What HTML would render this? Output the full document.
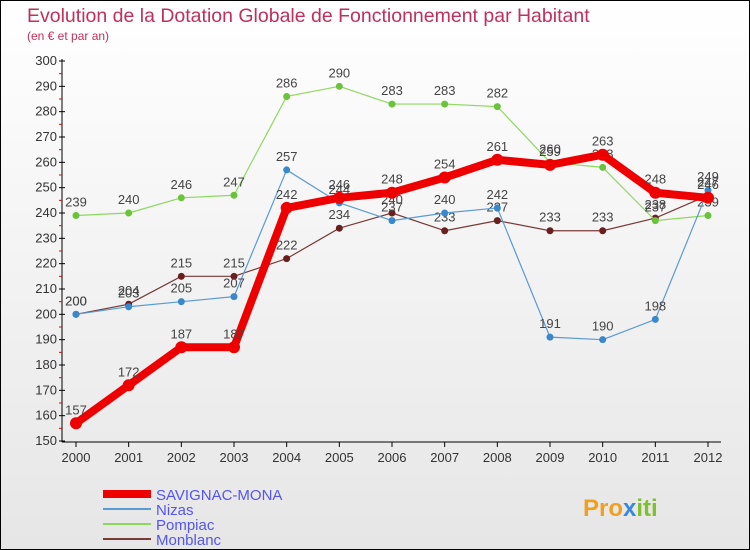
<!DOCTYPE html>
<html><head><meta charset="utf-8"><style>
body{margin:0;}
#wrap{width:748px;height:548px;border:1px solid #000;background:linear-gradient(#fff,#e6e6e6);position:relative;font-family:"Liberation Sans",sans-serif;overflow:hidden}
</style></head><body>
<div id="wrap">
<svg id="chart" width="748" height="548"></svg>
</div>
<script>
const years=[2000,2001,2002,2003,2004,2005,2006,2007,2008,2009,2010,2011,2012];
const savignac=[157,172,187,187,242,246,248,254,261,259,263,248,246];
const nizas=[200,203,205,207,257,244,237,240,242,191,190,198,249];
const pompiac=[239,240,246,247,286,290,283,283,282,260,258,237,239];
const monblanc=[200,204,215,215,222,234,240,233,237,233,233,238,247];
const yTicks=[150,160,170,180,190,200,210,220,230,240,250,260,270,280,290,300];
const seriesNames=["SAVIGNAC-MONA","Nizas","Pompiac","Monblanc"];
const NS="http://www.w3.org/2000/svg";
const svg=document.getElementById('chart');
function X(i){return 75+i*(632/12);}
function Y(v){return 440-(v-150)*(380/150);}
function el(t,a,p){const e=document.createElementNS(NS,t);for(const k in a)e.setAttribute(k,a[k]);(p||svg).appendChild(e);return e;}
function txt(x,y,s,a){const e=el('text',Object.assign({x:x,y:y},a));e.textContent=s;return e;}
let t=txt(26,21,"Evolution de la Dotation Globale de Fonctionnement par Habitant",{fill:"#c0305a","font-size":"19.5","font-weight":"300"});

t=txt(26,39,"(en € et par an)",{fill:"#c0305a","font-size":"12"});

let a=el('line',{x1:61,y1:58,x2:61,y2:441,stroke:"#000"});

a=el('line',{x1:61,y1:441,x2:720,y2:441,stroke:"#000"});

yTicks.forEach(v=>{
 el('line',{x1:58,y1:Y(v),x2:64,y2:Y(v),stroke:"#000"});
 if(v<300) el('line',{x1:58,y1:Y(v+5),x2:61,y2:Y(v+5),stroke:"#e00"});
 const l=txt(56,Y(v)+4,v,{"text-anchor":"end","font-size":"13",fill:"#333"});
 
});
years.forEach((y,i)=>{
 el('line',{x1:X(i),y1:441,x2:X(i),y2:446,stroke:"#000"});
 const l=txt(X(i),461,y,{"text-anchor":"middle","font-size":"13",fill:"#333"});
 
});
function draw(data,color,dot,w,r,name){
 const g=el('g',{});
 
 el('polyline',{points:data.map((v,i)=>X(i)+","+Y(v)).join(" "),fill:"none",stroke:color,"stroke-width":w,"stroke-linejoin":"round"},g);
 data.forEach((v,i)=>{
  const c=el('circle',{cx:X(i),cy:Y(v),r:r,fill:dot},g);
  
  const l=txt(X(i),Y(v)-9,v,{"text-anchor":"middle","font-size":"13",fill:"#444"},g);
  
 });
}
draw(monblanc,"#7a3a3a","#6a1f1f",1.2,3.5,"monblanc-series");
draw(pompiac,"#8ed860","#6ac43a",1.2,3.5,"pompiac-series");
draw(nizas,"#5a9ad6","#3a88cc",1.2,3.5,"nizas-series");
draw(savignac,"#ee0000","#ee0000",8,6,"savignac-series");
const lc=[["#ee0000",8],["#5a9ad6",2],["#8ed860",2],["#7a3a3a",2]];
seriesNames.forEach((n,i)=>{
 const y=493+i*15;
 const g=el('g',{});
 
 el('line',{x1:102,y1:y,x2:150,y2:y,stroke:lc[i][0],"stroke-width":lc[i][1]},g);
 txt(155,y+6,n,{"font-size":"15",fill:"#5555ee"},g);
});
const lg=txt(582,515,"Pro",{"font-size":"24","font-weight":"bold",fill:"#f0a020"});

const ts=el('tspan',{fill:"#3a88dd"},lg);ts.textContent="x";
const ts2=el('tspan',{fill:"#80c030"},lg);ts2.textContent="iti";
</script>
</body></html>
